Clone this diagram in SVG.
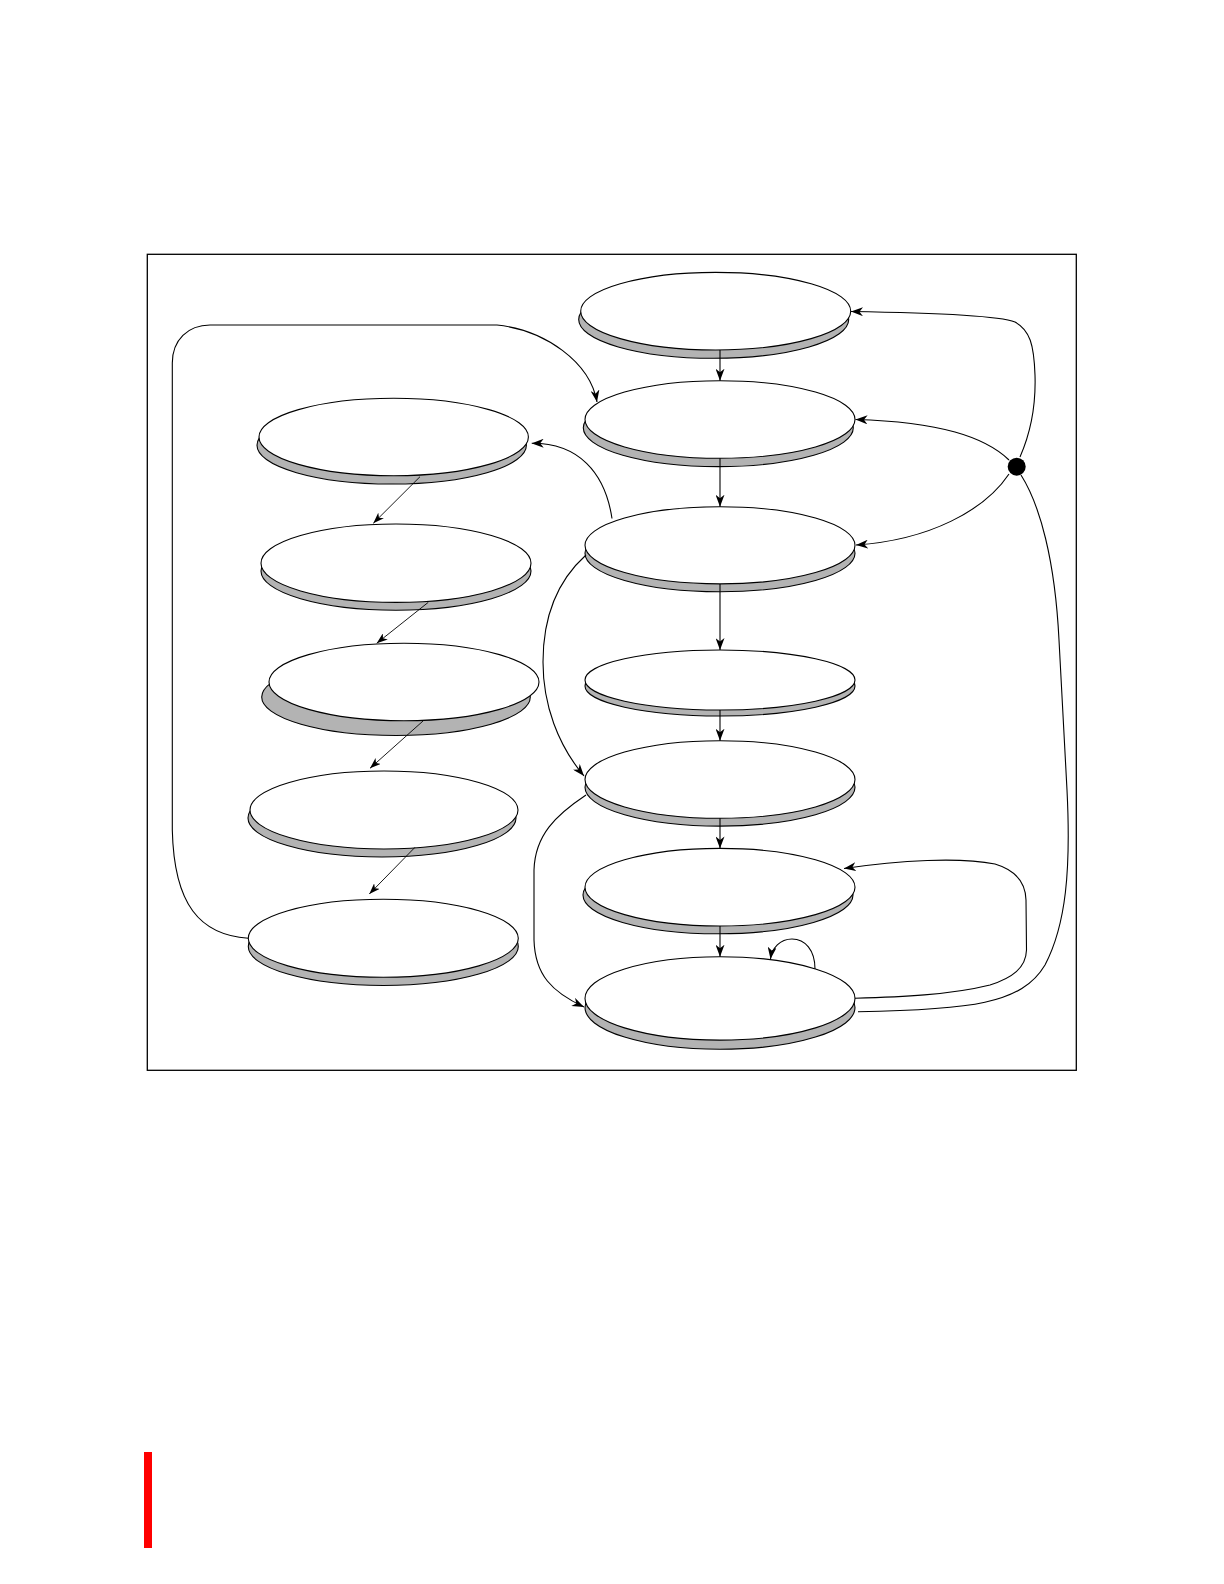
<svg xmlns="http://www.w3.org/2000/svg" width="1224" height="1584" viewBox="0 0 1224 1584">
<style>
.sh{fill:#b3b3b3;stroke:#000;stroke-width:1.1}
.tp{fill:#fff;stroke:#000;stroke-width:1.1}
.ln{fill:none;stroke:#000;stroke-width:1.1}
.th{fill:none;stroke:#000;stroke-width:0.9}
</style>
<defs>
<marker id="ah" viewBox="0 0 12 9" refX="12" refY="4.5" markerWidth="12" markerHeight="9" markerUnits="userSpaceOnUse" orient="auto">
<path d="M0,0 L12,4.5 L0,9 L3.5,4.5 z" fill="#000"/>
</marker>
<marker id="ahs" viewBox="0 0 11 8" refX="11" refY="4" markerWidth="11" markerHeight="8" markerUnits="userSpaceOnUse" orient="auto">
<path d="M0,0 L11,4 L0,8 L3,4 z" fill="#000"/>
</marker>
</defs>
<rect width="1224" height="1584" fill="#fff"/>
<rect x="147.3" y="254.3" width="929" height="816" fill="none" stroke="#000" stroke-width="1.3"/>
<rect x="144" y="1452" width="8" height="96" fill="#ff0000"/>

<g id="nodeA"><ellipse class="sh" cx="713.7" cy="319.5" rx="135" ry="38.8"/><ellipse class="tp" cx="715.7" cy="311.2" rx="135" ry="38.8"/></g>
<g id="nodeB"><ellipse class="sh" cx="718.3" cy="427.8" rx="135" ry="38.8"/><ellipse class="tp" cx="720" cy="419.5" rx="135" ry="38.8"/></g>
<g id="nodeC"><ellipse class="sh" cx="720" cy="553.2" rx="135" ry="38.6"/><ellipse class="tp" cx="720" cy="545.3" rx="135" ry="38.6"/></g>
<g id="nodeD"><ellipse class="sh" cx="720" cy="686" rx="135" ry="30"/><ellipse class="tp" cx="720" cy="680" rx="135" ry="30"/></g>
<g id="nodeE"><ellipse class="sh" cx="720" cy="787.3" rx="135" ry="38.8"/><ellipse class="tp" cx="720" cy="779.5" rx="135" ry="38.8"/></g>
<g id="nodeF"><ellipse class="sh" cx="718" cy="895" rx="135" ry="38.8"/><ellipse class="tp" cx="720" cy="887.2" rx="135" ry="38.8"/></g>
<g id="nodeG"><ellipse class="sh" cx="720" cy="1007.6" rx="135" ry="41.7"/><ellipse class="tp" cx="720" cy="998.4" rx="135" ry="41.7"/></g>

<g id="nodeL1"><ellipse class="sh" cx="391.7" cy="445.3" rx="134.7" ry="38.7"/><ellipse class="tp" cx="393.7" cy="437" rx="134.7" ry="38.7"/></g>
<g id="nodeL2"><ellipse class="sh" cx="396" cy="571" rx="135" ry="39.2"/><ellipse class="tp" cx="396" cy="563.2" rx="135" ry="39.2"/></g>
<g id="nodeL3"><ellipse class="sh" cx="396" cy="697" rx="134.3" ry="38.5"/><ellipse class="tp" cx="404" cy="682" rx="135" ry="38.7"/></g>
<g id="nodeL4"><ellipse class="sh" cx="382" cy="818" rx="134" ry="39"/><ellipse class="tp" cx="384" cy="810" rx="134" ry="39"/></g>
<g id="nodeL5"><ellipse class="sh" cx="383.3" cy="946.5" rx="135" ry="39"/><ellipse class="tp" cx="383.3" cy="938.3" rx="135" ry="39"/></g>

<g id="junction"><circle cx="1016.7" cy="466.7" r="9" fill="#000"/></g>

<g id="connectors">
<line class="ln" x1="720" y1="350" x2="720" y2="380.7" marker-end="url(#ah)"/>
<line class="ln" x1="720" y1="458.3" x2="720" y2="506.7" marker-end="url(#ah)"/>
<line class="ln" x1="720" y1="584" x2="720" y2="650" marker-end="url(#ah)"/>
<line class="ln" x1="720" y1="710" x2="720" y2="740.7" marker-end="url(#ah)"/>
<line class="ln" x1="720" y1="818.3" x2="720" y2="848.4" marker-end="url(#ah)"/>
<line class="ln" x1="720" y1="926" x2="720" y2="956.7" marker-end="url(#ah)"/>

<line class="th" x1="420" y1="476.7" x2="373.3" y2="523.3" marker-end="url(#ahs)"/>
<line class="th" x1="428.3" y1="602.3" x2="376.7" y2="643.3" marker-end="url(#ahs)"/>
<line class="th" x1="423" y1="721" x2="370" y2="768.3" marker-end="url(#ahs)"/>
<line class="th" x1="415" y1="847.3" x2="369.3" y2="894" marker-end="url(#ahs)"/>

<path class="ln" d="M1020,457 C1031,432 1036,405 1035,375 C1034,345 1030,330 1015,322 C1000,316 950,313 851,311.5" marker-end="url(#ah)"/>
<path class="ln" d="M1009,460 C985,437 940,422 855.5,419.5" marker-end="url(#ah)"/>
<path class="ln" d="M1009,474 C985,510 930,540 856,545" marker-end="url(#ah)"/>
<path class="ln" d="M1021,475 C1040,505 1055,560 1059,640 L1067,790 C1071,870 1066,925 1045,965 C1022,1004 970,1010 858,1011.7"/>
<path class="ln" d="M855,998.3 C900,997 950,995 990,985 C1012,978 1026,968 1026.5,950 L1026,900 C1025.5,882 1015,870 995,864 C960,857 900,860 844,868.5" marker-end="url(#ah)"/>
<path class="ln" d="M815,969 C815,950 805,939 792,939 C780,939 772,948 770.5,959" marker-end="url(#ah)"/>
<path class="ln" d="M612,518.5 C605,472 578,443 531.7,443.3" marker-end="url(#ah)"/>
<path class="ln" d="M586,555 C556,582 543,620 543,662 C543,705 558,745 584,776" marker-end="url(#ah)"/>
<path class="ln" d="M586,795 C556,815 535,835 534,870 L534,940 C535,975 552,992 584,1007" marker-end="url(#ah)"/>
<path class="ln" d="M248.3,938.3 C200,935 174,905 172.3,830 L172.3,363 C172.3,340 188,325 210,325 L497,325 C545,330 590,362 597,402" marker-end="url(#ah)"/>
</g>
</svg>
